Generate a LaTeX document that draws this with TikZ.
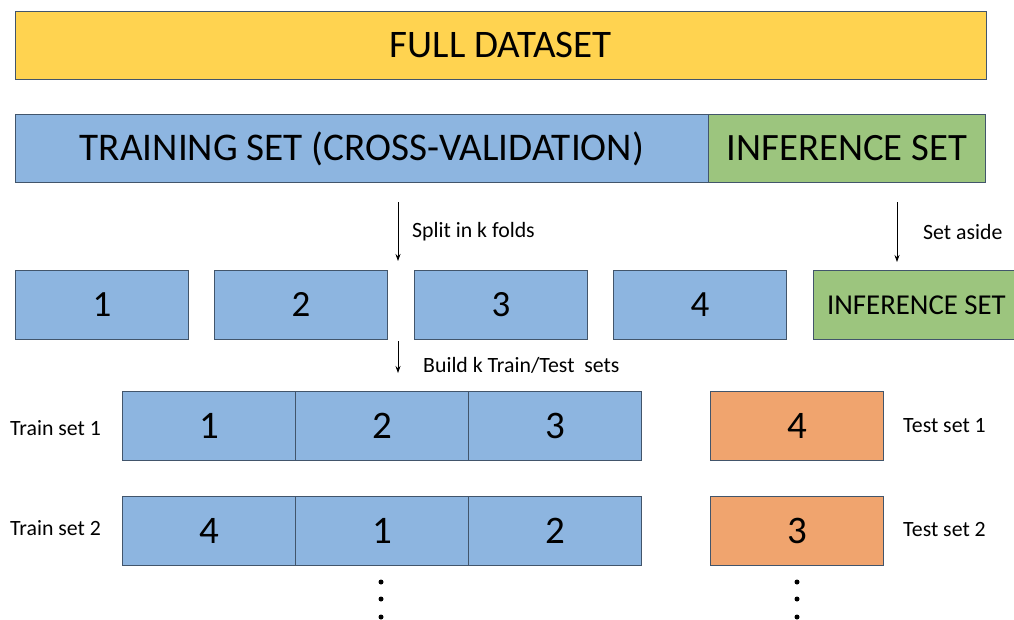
\documentclass[tikz,border=0pt]{standalone}
\usepackage{fontspec}
\setmainfont{Carlito}
\usetikzlibrary{arrows.meta}
\definecolor{goldfill}{HTML}{FFD350}
\definecolor{bluefill}{HTML}{8DB5E0}
\definecolor{greenfill}{HTML}{9CC57E}
\definecolor{orangefill}{HTML}{F0A46E}
\definecolor{edgecol}{HTML}{42556B}
\tikzset{
  x=1pt, y=-1pt,
  box/.style={draw=edgecol, line width=0.9pt, inner sep=0pt, anchor=north west},
  goldbox/.style={box, fill=goldfill},
  bluebox/.style={box, fill=bluefill},
  greenbox/.style={box, fill=greenfill},
  orangebox/.style={box, fill=orangefill},
  fold/.style={minimum width=173pt, minimum height=69pt, font=\fontsize{37}{40}\selectfont},
  cell/.style={minimum width=173pt, minimum height=69pt, font=\fontsize{39}{42}\selectfont},
  note/.style={anchor=west, inner sep=0pt, font=\fontsize{21.8}{24}\selectfont},
  flow/.style={-{Stealth[length=7pt,width=5pt]}, line width=0.8pt, black},
  dot/.style={circle, fill=black, inner sep=0pt, minimum size=5pt}
}
\begin{document}
\begin{tikzpicture}
\path[use as bounding box, clip] (0,0) rectangle (1014,619);
\fill[white] (0,0) rectangle (1014,619);

% whole data set and its split
\node[goldbox, minimum width=971pt, minimum height=68pt, font=\fontsize{39}{42}\selectfont] (full) at (15,11) {FULL DATASET};
\node[bluebox, minimum width=693pt, minimum height=68pt, font=\fontsize{39.2}{43}\selectfont] (train) at (15,114) {TRAINING SET (CROSS-VALIDATION)};
\node[greenbox, minimum width=277pt, minimum height=68pt, font=\fontsize{38.7}{43}\selectfont] (infer) at (708,114) {INFERENCE SET};

% arrows to the folds
\coordinate (sa) at (398,202); \coordinate (sb) at (398,261);
\coordinate (ia) at (897,202); \coordinate (ib) at (897,262);
\draw[flow] (sa) -- (sb);
\draw[flow] (ia) -- (ib);
\node[note] (splitlbl) at (412,232) {Split in k folds};
\node[note] (asidelbl) at (923,232) {Set aside};

% the k folds
\node[bluebox, fold] (f1) at (15,270) {1};
\node[bluebox, fold] (f2) at (214,270) {2};
\node[bluebox, fold] (f3) at (414,270) {3};
\node[bluebox, fold] (f4) at (613,270) {4};
\node[greenbox, minimum width=206pt, minimum height=69pt, font=\fontsize{28.8}{32}\selectfont] (infer2) at (813,270) {INFERENCE SET};

\coordinate (ba) at (398,341); \coordinate (bb) at (398,373);
\draw[flow] (ba) -- (bb);
\node[note] (buildlbl) at (423,365) {Build k Train/Test\ \ sets};

% train / test sets
\node[note] (tr1lbl) at (10,428) {Train set 1};
\node[bluebox, cell] (r1a) at (122,391) {1};
\node[bluebox, cell] (r1b) at (295,391) {2};
\node[bluebox, cell] (r1c) at (468,391) {3};
\node[orangebox, cell] (t1) at (710,391) {4};
\node[note] (te1lbl) at (903,426) {Test set 1};

\node[note] (tr2lbl) at (10,528) {Train set 2};
\node[bluebox, cell] (r2a) at (122,496) {4};
\node[bluebox, cell] (r2b) at (295,496) {1};
\node[bluebox, cell] (r2c) at (468,496) {2};
\node[orangebox, cell] (t2) at (710,496) {3};
\node[note] (te2lbl) at (903,529) {Test set 2};

% continuation dots
\foreach \yy [count=\i] in {582,599,617} {
  \node[dot] (ld\i) at (381,\yy) {};
  \node[dot] (rd\i) at (797,\yy) {};
}
\end{tikzpicture}
\end{document}
